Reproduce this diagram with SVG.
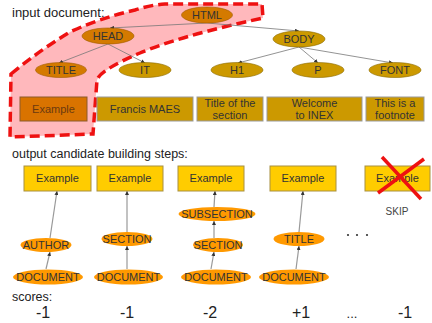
<svg xmlns="http://www.w3.org/2000/svg" width="432" height="323" viewBox="0 0 432 323">
<defs>
<marker id="ah" viewBox="0 0 6 6" refX="6" refY="3" markerWidth="4" markerHeight="4" markerUnits="userSpaceOnUse" orient="auto">
<path d="M0,0 L6,3 L0,6 Z" fill="#333"/>
</marker>
<style>
text{font-family:"Liberation Sans",Arial,sans-serif;fill:#333;}
.hdr{font-size:12.5px;fill:#222;}
.lbl{font-size:11px;text-anchor:middle;}
.score{font-size:16px;text-anchor:middle;fill:#222;}
.eo{fill:#D47A00;stroke:#A05A00;stroke-width:0.6;}
.eg{fill:#CC9900;stroke:#8A6A00;stroke-width:0.6;}
.bo{fill:#D97300;stroke:#8B5A2B;stroke-width:1;}
.bg{fill:#CC9900;stroke:#999;stroke-width:1;}
.by{fill:#FFCC00;stroke:#A89040;stroke-width:1;}
.eb{fill:#FF9900;}
.tl{stroke:#777;stroke-width:0.8;fill:none;marker-end:url(#ah);}
.bl{stroke:#999;stroke-width:1.2;fill:none;marker-end:url(#ah);}
</style>
</defs>
<rect width="432" height="323" fill="#fff"/>
<path id="highlight" d="M11 74 Q40 50 70 32 Q100 18 135 10 Q150 5 165 4 L262 4 L263 18 Q180 36 140 53 Q100 70 97 80 L93 134 L10 137 Z" fill="#FFB8BC" stroke="#EE1111" stroke-width="3.5" stroke-dasharray="10 5"/>
<text class="hdr" x="12" y="17" style="font-size:13px">input document:</text>
<text class="hdr" x="12" y="158">output candidate building steps:</text>
<text class="hdr" x="12" y="301">scores:</text>
<g id="connectors">
<line class="tl" x1="207" y1="23" x2="110" y2="28"/>
<line class="tl" x1="207" y1="23" x2="299" y2="31"/>
<line class="tl" x1="108" y1="44" x2="59" y2="63"/>
<line class="tl" x1="108" y1="44" x2="145" y2="63"/>
<line class="tl" x1="299" y1="47" x2="238" y2="63"/>
<line class="tl" x1="299" y1="47" x2="318" y2="63"/>
<line class="tl" x1="299" y1="47" x2="393" y2="63"/>
<line class="bl" x1="46" y1="269" x2="50" y2="252"/>
<line class="bl" x1="50" y1="238" x2="57" y2="191"/>
<line class="bl" x1="127" y1="269" x2="127" y2="246"/>
<line class="bl" x1="127" y1="232" x2="127" y2="191"/>
<line class="bl" x1="211" y1="269" x2="214" y2="252"/>
<line class="bl" x1="214" y1="238" x2="214" y2="221"/>
<line class="bl" x1="214" y1="207" x2="215" y2="191"/>
<line class="bl" x1="296" y1="269" x2="299" y2="246"/>
<line class="bl" x1="299" y1="232" x2="303" y2="191"/>
</g>
<g id="HTML"><ellipse class="eo" cx="207" cy="15" rx="25.5" ry="8"/><text class="lbl" x="207" y="19">HTML</text></g>
<g id="HEAD"><ellipse class="eo" cx="108" cy="36" rx="26" ry="8"/><text class="lbl" x="108" y="40">HEAD</text></g>
<g id="BODY"><ellipse class="eg" cx="299" cy="39" rx="26" ry="8"/><text class="lbl" x="299" y="43">BODY</text></g>
<g id="TITLE"><ellipse class="eo" cx="61" cy="70" rx="25.5" ry="7.5"/><text class="lbl" x="61" y="74">TITLE</text></g>
<g id="IT"><ellipse class="eg" cx="145" cy="70" rx="26" ry="7.5"/><text class="lbl" x="145" y="74">IT</text></g>
<g id="H1"><ellipse class="eg" cx="237" cy="70" rx="26" ry="7.5"/><text class="lbl" x="237" y="74">H1</text></g>
<g id="P"><ellipse class="eg" cx="318" cy="70" rx="26" ry="7.5"/><text class="lbl" x="318" y="74">P</text></g>
<g id="FONT"><ellipse class="eg" cx="395" cy="70" rx="26" ry="7.5"/><text class="lbl" x="395" y="74">FONT</text></g>
<g id="leaf-example"><rect class="bo" x="20" y="97" width="67" height="24"/><text class="lbl" x="53.5" y="113" style="fill:#6B3A10">Example</text></g>
<g id="leaf-francis"><rect class="bg" x="97" y="97" width="96" height="24"/><text class="lbl" x="145" y="113">Francis MAES</text></g>
<g id="leaf-title"><rect class="bg" x="197" y="97" width="66" height="24"/><text class="lbl" x="230" y="107">Title of the</text><text class="lbl" x="230" y="119">section</text></g>
<g id="leaf-welcome"><rect class="bg" x="267" y="97" width="95" height="24"/><text class="lbl" x="314.5" y="107">Welcome</text><text class="lbl" x="314.5" y="119">to INEX</text></g>
<g id="leaf-footnote"><rect class="bg" x="366" y="97" width="58" height="24"/><text class="lbl" x="395" y="107">This is a</text><text class="lbl" x="395" y="119">footnote</text></g>
<g id="step1">
<rect class="by" x="24" y="166" width="67" height="25"/><text class="lbl" x="57.5" y="182">Example</text>
<ellipse class="eb" cx="46" cy="245" rx="25.5" ry="7"/><text class="lbl" x="46" y="249">AUTHOR</text>
<ellipse class="eb" cx="48" cy="277" rx="35" ry="7.5"/><text class="lbl" x="48" y="281">DOCUMENT</text>
</g>
<g id="step2">
<rect class="by" x="97" y="166" width="66" height="25"/><text class="lbl" x="130" y="182">Example</text>
<ellipse class="eb" cx="127" cy="239" rx="25.5" ry="7"/><text class="lbl" x="127" y="243">SECTION</text>
<ellipse class="eb" cx="128.5" cy="277" rx="34.5" ry="7.5"/><text class="lbl" x="128.5" y="281">DOCUMENT</text>
</g>
<g id="step3">
<rect class="by" x="178" y="166" width="66" height="25"/><text class="lbl" x="211" y="182">Example</text>
<ellipse class="eb" cx="217" cy="214" rx="38.5" ry="7"/><text class="lbl" x="217" y="218">SUBSECTION</text>
<ellipse class="eb" cx="218" cy="245" rx="25" ry="7"/><text class="lbl" x="218" y="249">SECTION</text>
<ellipse class="eb" cx="216" cy="277" rx="35" ry="7.5"/><text class="lbl" x="216" y="281">DOCUMENT</text>
</g>
<g id="step4">
<rect class="by" x="270" y="166" width="66" height="25"/><text class="lbl" x="303" y="182">Example</text>
<ellipse class="eb" cx="299" cy="239" rx="25.5" ry="7"/><text class="lbl" x="299" y="243">TITLE</text>
<ellipse class="eb" cx="294" cy="277" rx="35" ry="7.5"/><text class="lbl" x="294" y="281">DOCUMENT</text>
</g>
<g id="ellipsis"><circle cx="348" cy="235" r="1.1" fill="#333"/><circle cx="357" cy="235" r="1.1" fill="#333"/><circle cx="367" cy="235" r="1.1" fill="#333"/></g>
<g id="step5">
<rect class="by" x="365" y="166" width="65" height="25"/><text class="lbl" x="397.5" y="182">Example</text>
<line x1="382" y1="157" x2="421" y2="199" stroke="#EE1111" stroke-width="3.5"/>
<line x1="424" y1="159" x2="378" y2="193" stroke="#EE1111" stroke-width="3.5"/>
<text class="lbl" x="397" y="215" style="font-size:10px;fill:#444">SKIP</text>
</g>
<g id="scores">
<text class="score" x="43" y="318">-1</text>
<text class="score" x="127" y="318">-1</text>
<text class="score" x="210" y="318">-2</text>
<text class="score" x="301" y="318">+1</text>
<text class="score" x="352" y="318" style="font-size:13px">...</text>
<text class="score" x="405" y="318">-1</text>
</g>
</svg>
